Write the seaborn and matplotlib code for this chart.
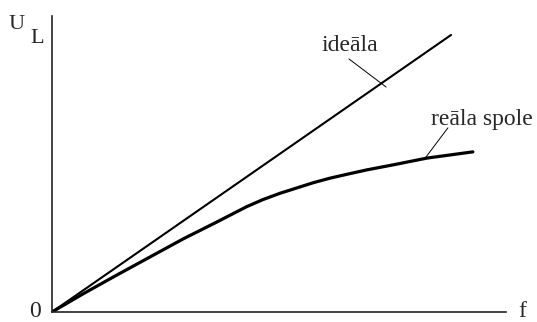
import matplotlib
matplotlib.use("Agg")
import matplotlib.pyplot as plt
import seaborn as sns
import pandas as pd

# frequency f (arbitrary units) and voltage U_L
ideal_f = [0.0, 8.79]
ideal_u = [0.0, 9.36]

real_f = [0.0, 0.68, 1.43, 2.16, 2.89, 3.63, 4.29, 4.65, 5.02, 5.39, 5.76,
          6.12, 6.49, 6.93, 7.51, 8.26, 9.27]
real_u = [0.0, 0.61, 1.25, 1.86, 2.47, 3.04, 3.56, 3.80, 4.01, 4.19, 4.37,
          4.52, 4.65, 4.80, 4.97, 5.20, 5.41]

label_ideal = "ideāla"
label_real = "reāla spole"

sns.set_style("white")
plt.rcParams['font.family'] = ['Liberation Serif', 'DejaVu Serif']

df_ideal = pd.DataFrame({"f": ideal_f, "U": ideal_u})
df_real = pd.DataFrame({"f": real_f, "U": real_u})

fig = plt.figure(figsize=(5.37, 3.22), dpi=100)
ax = fig.add_axes([52 / 537, 10 / 322, 454 / 537, 296 / 322])

sns.lineplot(data=df_ideal, x="f", y="U", ax=ax, color="black", linewidth=1.5, sort=False)
sns.lineplot(data=df_real, x="f", y="U", ax=ax, color="black", linewidth=2.3, sort=False)

ax.set_xlim(0, 10)
ax.set_ylim(0, 10)
ax.set_xticks([])
ax.set_yticks([])
ax.set_xlabel("")
ax.set_ylabel("")
for side in ["top", "right"]:
    ax.spines[side].set_visible(False)
for side in ["left", "bottom"]:
    ax.spines[side].set_color("#222222")
    ax.spines[side].set_linewidth(1.2)

fs = 17
# axis names
ax.text(-0.95, 9.56, "U", fontsize=16, ha="left", va="baseline", clip_on=False)
ax.text(-0.47, 9.09, "L", fontsize=16, ha="left", va="baseline", clip_on=False)
ax.text(-0.375, -0.335, "0", fontsize=fs, ha="center", va="bottom", clip_on=False)
ax.text(10.26, -0.335, "f", fontsize=fs, ha="left", va="bottom", clip_on=False)

# curve labels with pointer lines
ax.text(5.93, 8.82, label_ideal, fontsize=fs, ha="left", va="baseline", clip_on=False)
ax.plot([6.54, 7.36], [8.55, 7.60], color="black", linewidth=0.7, clip_on=False)
ax.text(8.35, 6.32, label_real, fontsize=fs, ha="left", va="baseline", clip_on=False)
ax.plot([8.72, 8.22], [6.22, 5.20], color="black", linewidth=0.7, clip_on=False)

fig.savefig("out.png", dpi=100)
plt.close(fig)
